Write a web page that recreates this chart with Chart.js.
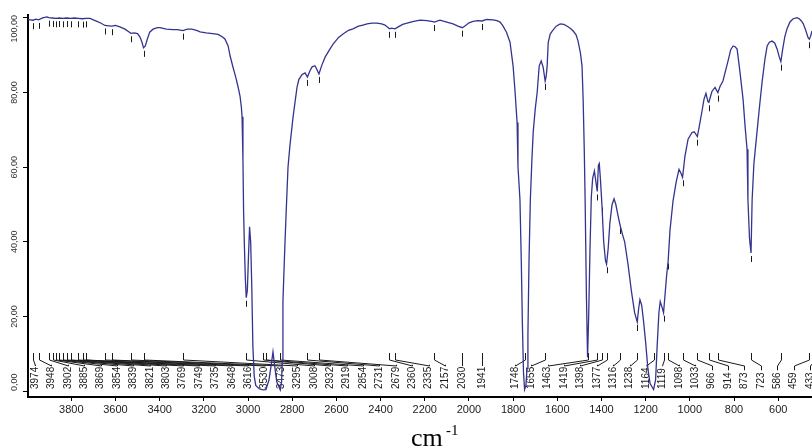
<!DOCTYPE html>
<html>
<head>
<meta charset="utf-8">
<script src="https://cdn.jsdelivr.net/npm/chart.js@4.4.1/dist/chart.umd.min.js"></script>
<style>
  html, body { margin: 0; padding: 0; background: #fff; }
  #wrap { width: 812px; height: 448px; }
</style>
</head>
<body>
<div id="wrap"><canvas id="irChart" width="812" height="448"></canvas></div>
<script>
// ---------- spectrum (wavenumber cm-1 / %T) ----------
const wavenumber = [
  3996, 3985, 3974, 3960, 3948, 3930, 3910, 3902, 3885, 3869, 3854, 3839, 3821, 3803, 3785, 3769,
  3749, 3735, 3715, 3700, 3684, 3665, 3648, 3630, 3616, 3600, 3580, 3557, 3540, 3530, 3515, 3500,
  3489, 3480, 3473, 3465, 3455, 3445, 3430, 3410, 3398, 3370, 3340, 3320, 3295, 3275, 3254, 3230,
  3217, 3190, 3160, 3136, 3115, 3104, 3090, 3081, 3068, 3055, 3045, 3036, 3030, 3027, 3023, 3020,
  3016, 3012, 3008, 3003, 2998, 2993, 2988, 2983, 2978, 2972, 2965, 2950, 2932, 2919, 2905, 2895,
  2887, 2880, 2870, 2854, 2848, 2845, 2842, 2835, 2828, 2819, 2810, 2796, 2786, 2778, 2770, 2756,
  2742, 2731, 2720, 2710, 2697, 2690, 2679, 2665, 2651, 2630, 2615, 2590, 2570, 2545, 2525, 2500,
  2480, 2461, 2440, 2416, 2395, 2380, 2365, 2360, 2350, 2335, 2320, 2300, 2280, 2250, 2221, 2190,
  2163, 2157, 2131, 2100, 2072, 2050, 2030, 2015, 2000, 1981, 1960, 1941, 1920, 1891, 1873, 1859,
  1846, 1830, 1814, 1800, 1791, 1782, 1778, 1769, 1763, 1758, 1753, 1748, 1742, 1737, 1733, 1728,
  1722, 1715, 1709, 1700, 1691, 1682, 1673, 1664, 1655, 1650, 1646, 1641, 1632, 1623, 1605, 1587,
  1570, 1555, 1540, 1528, 1515, 1506, 1495, 1488, 1483, 1478, 1474, 1468, 1463, 1458, 1452, 1446,
  1440, 1432, 1425, 1419, 1414, 1410, 1405, 1398, 1390, 1382, 1377, 1370, 1362, 1352, 1343, 1335,
  1325, 1316, 1305, 1295, 1280, 1265, 1250, 1238, 1232, 1226, 1218, 1210, 1200, 1190, 1180, 1164,
  1155, 1148, 1140, 1134, 1126, 1119, 1112, 1105, 1098, 1090, 1076, 1062, 1049, 1041, 1033, 1022,
  1008, 990, 980, 966, 954, 945, 936, 927, 918, 914, 900, 886, 873, 863, 850, 840,
  827, 815, 804, 795, 786, 773, 759, 750, 741, 737, 730, 723, 718, 710, 696, 685,
  673, 660, 650, 640, 628, 616, 605, 595, 588, 580, 570, 560, 546, 532, 515, 505,
  495, 487, 477, 465, 459, 454, 447
];
const transmittance = [
  99.6, 99.5, 99.4, 99.7, 99.5, 100.0, 100.3, 100.1, 100.0, 99.9, 100.0, 99.9, 100.0, 99.9, 100.0, 99.9,
  99.8, 99.9, 99.9, 99.5, 99.1, 98.6, 98.0, 97.9, 97.8, 98.0, 97.6, 97.0, 96.3, 95.9, 96.0, 95.8,
  94.9, 93.5, 92.0, 92.5, 94.5, 96.2, 97.0, 97.4, 97.4, 97.0, 96.9, 96.9, 96.6, 97.0, 97.0, 96.6,
  96.3, 96.0, 95.8, 95.6, 94.9, 94.3, 92.5, 89.8, 86.8, 84.0, 81.5, 79.0, 76.0, 73.5, 62.0, 48.0,
  38.0, 30.0, 25.0, 27.0, 36.0, 44.0, 40.0, 28.0, 12.0, 4.0, 1.5, 0.6, 0.3, 0.4, 3.0, 7.0,
  10.5, 7.0, 2.5, 0.3, 2.5, 8.0, 24.0, 36.0, 47.0, 60.0, 66.0, 73.5, 78.0, 81.5, 83.5, 84.8,
  85.3, 84.2, 85.8, 86.9, 87.2, 86.4, 85.0, 87.5, 89.5, 91.6, 93.0, 94.8, 95.7, 96.7, 97.1, 97.8,
  98.1, 98.4, 98.6, 98.6, 98.4, 98.1, 97.4, 97.1, 97.3, 97.1, 97.6, 98.3, 98.6, 99.1, 99.4, 99.3,
  99.0, 98.9, 99.4, 98.9, 98.4, 97.8, 97.4, 98.0, 98.7, 99.1, 99.3, 99.2, 99.6, 99.5, 99.3, 98.9,
  97.9, 96.2, 93.5, 87.1, 80.1, 72.0, 60.2, 51.3, 35.0, 18.0, 5.0, 0.4, 1.5, 6.0, 15.0, 35.0,
  51.3, 62.0, 69.4, 75.5, 80.1, 87.1, 88.5, 86.8, 83.1, 84.5, 87.1, 93.5, 95.7, 96.5, 97.8, 98.4,
  98.3, 97.8, 97.2, 96.5, 95.5, 93.8, 90.5, 87.1, 78.2, 65.0, 51.3, 25.0, 9.0, 20.0, 38.0, 52.0,
  57.0, 59.0, 56.0, 53.5, 60.5, 61.0, 57.0, 50.0, 40.0, 35.0, 34.0, 38.0, 45.0, 50.0, 51.5, 50.0,
  47.0, 44.5, 42.0, 40.0, 34.0, 27.0, 21.0, 18.5, 22.0, 24.5, 23.0, 19.0, 13.0, 6.0, 2.0, 0.4,
  3.0, 12.0, 21.0, 24.0, 22.5, 21.0, 26.0, 31.0, 35.0, 43.0, 51.0, 56.0, 59.4, 58.5, 57.3, 63.0,
  67.5, 69.3, 69.5, 68.2, 72.0, 75.0, 78.2, 79.8, 77.6, 77.4, 80.3, 81.4, 80.0, 81.7, 83.1, 85.5,
  88.5, 91.5, 92.5, 92.3, 91.7, 85.5, 78.2, 71.0, 64.8, 51.3, 41.0, 37.0, 51.3, 61.0, 69.4, 76.0,
  82.8, 89.0, 92.5, 93.5, 93.8, 93.3, 91.7, 89.5, 88.3, 91.5, 95.0, 97.1, 99.0, 99.8, 100.1, 99.8,
  99.2, 98.5, 97.0, 94.8, 94.3, 95.0, 96.5
];

// ---------- peak table ----------
const peakWavenumber = [
  3974, 3948, 3902, 3885, 3869, 3854, 3839, 3821, 3803, 3769, 3749, 3735, 3648, 3616, 3530, 3473,
  3295, 3008, 2932, 2919, 2854, 2731, 2679, 2360, 2335, 2157, 2030, 1941, 1748, 1655, 1463, 1419,
  1398, 1377, 1316, 1238, 1164, 1119, 1098, 1033, 966, 914, 873, 723, 586, 459, 433
];
const peakTransmittance = [
  99.4, 99.5, 100.1, 100.0, 99.9, 100.0, 99.9, 100.0, 99.9, 99.9, 99.8, 99.9, 98.0, 97.8, 95.9, 92.0,
  96.6, 25.0, 0.3, 0.4, 0.3, 84.2, 85.0, 97.1, 97.1, 98.9, 97.4, 99.2, 0.4, 83.1, 9.0, 53.5,
  50.0, 34.0, 44.5, 18.5, 0.4, 21.0, 35.0, 57.3, 68.2, 77.4, 80.0, 37.0, 88.3, 94.3, 95.0
];

// ---------- axes ----------
const xTickValues = [3800, 3600, 3400, 3200, 3000, 2800, 2600, 2400, 2200, 2000, 1800, 1600, 1400, 1200, 1000, 800, 600];
const yTickValues = [0, 20, 40, 60, 80, 100];
const yTickLabels = ["0,00", "20,00", "40,00", "60,00", "80,00", "100,00"];

const LABEL_GAP = 16.4;
const LINE_BLUE = "#34348e";

// lays peak labels out left->right without overlap, then pulls back from the right edge
function layoutLabels(pxs, left, right) {
  const pos = [];
  pxs.forEach((p, i) => {
    pos.push(i === 0 ? Math.max(p, left) : Math.max(p, pos[i - 1] + LABEL_GAP));
  });
  for (let i = pos.length - 1; i >= 0; i--) {
    const lim = i === pos.length - 1 ? right : pos[i + 1] - LABEL_GAP;
    pos[i] = Math.min(pos[i], lim);
  }
  return pos;
}

const peakAnnotations = {
  id: "peakAnnotations",
  beforeDatasetsDraw(chart) {
    const { ctx, chartArea: area, scales: { x, y } } = chart;
    const base = area.bottom - 8;
    const stemTop = area.bottom - 44, stemJoint = area.bottom - 37, labelJoint = area.bottom - 31;

    ctx.save();
    ctx.strokeStyle = "#1a1a1a";
    ctx.lineWidth = 1;

    // little ticks just under the trace at each peak
    peakWavenumber.forEach((w, i) => {
      const px = Math.round(x.getPixelForValue(w)) + 0.5;
      const py = y.getPixelForValue(peakTransmittance[i]);
      if (px > area.right || py + 10 > stemTop) return;
      ctx.beginPath();
      ctx.moveTo(px, py + 3);
      ctx.lineTo(px, py + 9);
      ctx.stroke();
    });

    // labels + leader lines along the bottom
    const pxs = peakWavenumber.map(w => x.getPixelForValue(w));
    const lx = layoutLabels(pxs, area.left + 7, area.right - 2);
    ctx.font = "10px 'Liberation Sans', Arial, sans-serif";
    ctx.fillStyle = "#1a1a1a";
    ctx.textAlign = "left";
    ctx.textBaseline = "middle";
    peakWavenumber.forEach((w, i) => {
      const txt = String(w);
      const tw = ctx.measureText(txt).width;
      const px = Math.round(pxs[i]) + 0.5;
      const lxi = Math.round(lx[i]) + 0.5;
      ctx.beginPath();
      ctx.moveTo(px, stemTop);
      ctx.lineTo(px, stemJoint);
      ctx.lineTo(lxi, labelJoint);
      ctx.lineTo(lxi, base - tw - 2);
      ctx.stroke();
      ctx.save();
      ctx.translate(lx[i], base);
      ctx.rotate(-Math.PI / 2);
      ctx.fillText(txt, 0, 0);
      ctx.restore();
    });
    ctx.restore();
  },
  afterDraw(chart) {
    const { ctx, chartArea: area, scales: { y } } = chart;
    ctx.save();
    // rotated y tick labels, kept inside the axis span
    ctx.font = "9px 'Liberation Sans', Arial, sans-serif";
    ctx.fillStyle = "#333";
    ctx.textAlign = "center";
    ctx.textBaseline = "middle";
    yTickValues.forEach((v, i) => {
      const half = ctx.measureText(yTickLabels[i]).width / 2;
      let cy = y.getPixelForValue(v);
      cy = Math.max(area.top + half, Math.min(area.bottom - 6 - half, cy));
      ctx.save();
      ctx.translate(15, cy);
      ctx.rotate(-Math.PI / 2);
      ctx.fillText(yTickLabels[i], 0, 0);
      ctx.restore();
    });
    // axis title cm-1
    ctx.fillStyle = "#000";
    ctx.textAlign = "left";
    ctx.textBaseline = "alphabetic";
    ctx.font = "26px 'Liberation Serif', 'Times New Roman', serif";
    ctx.fillText("cm", 411, 446);
    ctx.font = "15px 'Liberation Serif', 'Times New Roman', serif";
    ctx.fillText("-1", 446, 435);
    ctx.restore();
  }
};

const ctx = document.getElementById("irChart").getContext("2d");
new Chart(ctx, {
  type: "line",
  data: {
    datasets: [{
      data: wavenumber.map((w, i) => ({ x: w, y: transmittance[i] })),
      parsing: false,
      borderColor: LINE_BLUE,
      borderWidth: 1.3,
      pointRadius: 0,
      tension: 0,
      fill: false
    }]
  },
  options: {
    responsive: false,
    animation: false,
    devicePixelRatio: 1,
    layout: { padding: { top: 15, right: 0, left: 0, bottom: 0 } },
    plugins: { legend: { display: false }, tooltip: { enabled: false } },
    scales: {
      x: {
        type: "linear",
        reverse: true,
        min: 447,
        max: 3996,
        afterFit: s => { s.height = 51; },
        afterBuildTicks: s => { s.ticks = xTickValues.map(v => ({ value: v })); },
        ticks: {
          autoSkip: false,
          maxRotation: 0,
          minRotation: 0,
          padding: 2,
          color: "#222",
          font: { family: "'Liberation Sans', Arial, sans-serif", size: 11 },
          callback: v => String(v)
        },
        grid: { drawOnChartArea: false, drawTicks: true, tickLength: 4, color: "#000" },
        border: { color: "#000", width: 2 }
      },
      y: {
        min: -1.6,
        max: 100.8,
        afterFit: s => { s.width = 28; },
        afterBuildTicks: s => { s.ticks = yTickValues.map(v => ({ value: v })); },
        ticks: { display: false },
        grid: { drawOnChartArea: false, drawTicks: true, tickLength: 5, color: "#000" },
        border: { color: "#000", width: 2 }
      }
    }
  },
  plugins: [peakAnnotations]
});
</script>
</body>
</html>
